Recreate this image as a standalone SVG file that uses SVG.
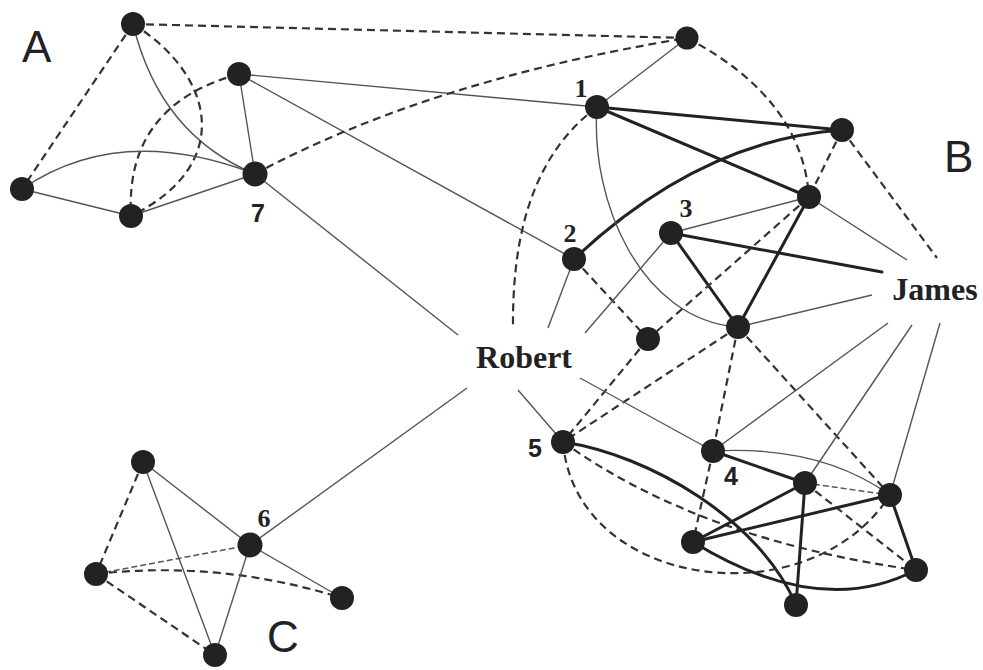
<svg xmlns="http://www.w3.org/2000/svg" width="983" height="670" viewBox="0 0 983 670">
<style>
.bg{fill:#fff}
.n{fill:#222}
.k{stroke:#222;stroke-width:3;fill:none;stroke-linecap:round}
.t{stroke:#555;stroke-width:1.4;fill:none}
.d{stroke:#333;stroke-width:2.2;fill:none;stroke-dasharray:8 5}
.dt{stroke:#555;stroke-width:1.5;fill:none;stroke-dasharray:6 3}
.lbl{font-family:"Liberation Sans",Arial,sans-serif;font-size:44px;fill:#222}
.num{font-family:"Liberation Serif","Times New Roman",serif;font-weight:bold;font-size:26px;fill:#222;text-anchor:middle}
.nums{font-family:"Liberation Sans",Arial,sans-serif;font-weight:bold;font-size:25px;fill:#222;text-anchor:middle}
.name{font-family:"Liberation Serif","Times New Roman",serif;font-weight:bold;font-size:32px;fill:#222;text-anchor:middle}
</style>
<rect class="bg" width="983" height="670"/>
<g id="connectors">
<!-- cluster A -->
<line class="d" x1="133" y1="24" x2="22" y2="189"/>
<path class="t" d="M133,24 Q160,135 255,174"/>
<path class="d" d="M133,24 C215,75 235,165 131,216"/>
<path class="d" d="M239,74 Q125,105 131,216"/>
<path class="t" d="M22,189 Q120,122 255,174"/>
<line class="t" x1="22" y1="189" x2="131" y2="216"/>
<line class="t" x1="131" y1="216" x2="255" y2="174"/>
<line class="t" x1="239" y1="74" x2="255" y2="174"/>
<line class="t" x1="239" y1="74" x2="597" y2="107"/>
<line class="t" x1="239" y1="74" x2="574" y2="259"/>
<line class="t" x1="255" y1="174" x2="458" y2="335"/>
<path class="d" d="M255,174 Q430,80 687,38"/>
<line class="d" x1="133" y1="24" x2="687" y2="38"/>
<!-- cluster C -->
<line class="d" x1="143" y1="462" x2="96" y2="574"/>
<line class="t" x1="143" y1="462" x2="250" y2="545"/>
<line class="t" x1="143" y1="462" x2="215" y2="655"/>
<line class="dt" x1="96" y1="574" x2="250" y2="545"/>
<path class="d" d="M96,574 Q220,560 342,598"/>
<line class="d" x1="96" y1="574" x2="215" y2="655"/>
<line class="t" x1="250" y1="545" x2="342" y2="598"/>
<line class="t" x1="250" y1="545" x2="215" y2="655"/>
<line class="t" x1="250" y1="545" x2="467" y2="388"/>
<!-- cluster B upper -->
<line class="t" x1="687" y1="38" x2="597" y2="107"/>
<path class="d" d="M687,38 Q802,98 809,197"/>
<line class="d" x1="842" y1="130" x2="809" y2="197"/>
<line class="d" x1="842" y1="130" x2="937" y2="258"/>
<line class="k" x1="597" y1="107" x2="842" y2="130"/>
<line class="k" x1="597" y1="107" x2="809" y2="197"/>
<path class="k" d="M574,259 Q700,140 842,130"/>
<path class="d" d="M597,107 C540,150 512,220 513,328"/>
<path class="t" d="M597,107 C590,200 640,320 738,327"/>
<line class="t" x1="574" y1="259" x2="548" y2="328"/>
<line class="d" x1="574" y1="259" x2="648" y2="339"/>
<line class="t" x1="671" y1="233" x2="809" y2="197"/>
<line class="k" x1="671" y1="233" x2="882" y2="272"/>
<line class="k" x1="671" y1="233" x2="738" y2="327"/>
<line class="t" x1="671" y1="233" x2="585" y2="333"/>
<line class="k" x1="809" y1="197" x2="738" y2="327"/>
<line class="t" x1="809" y1="197" x2="907" y2="260"/>
<line class="d" x1="809" y1="197" x2="648" y2="339"/>
<line class="t" x1="738" y1="327" x2="872" y2="295"/>
<line class="d" x1="738" y1="327" x2="563" y2="442"/>
<line class="d" x1="648" y1="339" x2="563" y2="442"/>
<line class="d" x1="738" y1="327" x2="713" y2="451"/>
<line class="d" x1="738" y1="327" x2="890" y2="495"/>
<line class="t" x1="580" y1="378" x2="713" y2="451"/>
<line class="t" x1="518" y1="390" x2="563" y2="442"/>
<line class="t" x1="888" y1="323" x2="713" y2="451"/>
<line class="t" x1="912" y1="325" x2="805" y2="483"/>
<line class="t" x1="940" y1="323" x2="890" y2="495"/>
<!-- cluster B lower -->
<path class="k" d="M563,442 C650,455 760,520 796,605"/>
<path class="d" d="M563,442 Q700,540 916,570"/>
<path class="d" d="M563,442 C575,590 810,620 890,495"/>
<line class="k" x1="713" y1="451" x2="805" y2="483"/>
<path class="t" d="M713,451 Q820,445 890,495"/>
<line class="d" x1="713" y1="451" x2="693" y2="542"/>
<line class="dt" x1="805" y1="483" x2="890" y2="495"/>
<line class="k" x1="805" y1="483" x2="693" y2="542"/>
<line class="k" x1="805" y1="483" x2="796" y2="605"/>
<line class="d" x1="805" y1="483" x2="916" y2="570"/>
<line class="k" x1="693" y1="542" x2="890" y2="495"/>
<path class="k" d="M693,542 Q820,620 916,570"/>
<line class="k" x1="890" y1="495" x2="916" y2="570"/>
</g>
<g id="node-a1"><circle class="n" cx="133" cy="24" r="12"/></g>
<g id="node-a2"><circle class="n" cx="239" cy="74" r="12"/></g>
<g id="node-a3"><circle class="n" cx="22" cy="189" r="12"/></g>
<g id="node-a4"><circle class="n" cx="131" cy="216" r="12"/></g>
<g id="node-7"><circle class="n" cx="255" cy="174" r="12.5"/><text class="nums" x="258" y="222">7</text></g>
<g id="node-c1"><circle class="n" cx="143" cy="462" r="12"/></g>
<g id="node-6"><circle class="n" cx="250" cy="545" r="12.5"/><text class="num" x="264" y="527">6</text></g>
<g id="node-c3"><circle class="n" cx="96" cy="574" r="12"/></g>
<g id="node-c4"><circle class="n" cx="342" cy="598" r="12"/></g>
<g id="node-c5"><circle class="n" cx="215" cy="655" r="12"/></g>
<g id="node-b-top"><circle class="n" cx="687" cy="38" r="11.5"/></g>
<g id="node-1"><circle class="n" cx="597" cy="107" r="12"/><text class="num" x="581" y="97">1</text></g>
<g id="node-b-r"><circle class="n" cx="842" cy="130" r="12"/></g>
<g id="node-b-m"><circle class="n" cx="809" cy="197" r="12"/></g>
<g id="node-3"><circle class="n" cx="671" cy="233" r="12"/><text class="num" x="686" y="217">3</text></g>
<g id="node-2"><circle class="n" cx="574" cy="259" r="12"/><text class="num" x="570" y="242">2</text></g>
<g id="node-b-small"><circle class="n" cx="648" cy="339" r="12"/></g>
<g id="node-b-c"><circle class="n" cx="738" cy="327" r="12"/></g>
<g id="node-5"><circle class="n" cx="563" cy="442" r="12"/><text class="nums" x="535" y="457">5</text></g>
<g id="node-4"><circle class="n" cx="713" cy="451" r="12"/><text class="nums" x="731" y="485">4</text></g>
<g id="node-b-4r"><circle class="n" cx="805" cy="483" r="12"/></g>
<g id="node-b-rr"><circle class="n" cx="890" cy="495" r="12"/></g>
<g id="node-b-ll"><circle class="n" cx="693" cy="542" r="12"/></g>
<g id="node-b-br"><circle class="n" cx="916" cy="570" r="12"/></g>
<g id="node-b-bot"><circle class="n" cx="796" cy="605" r="12"/></g>
<g id="node-robert"><text class="name" x="524" y="368">Robert</text></g>
<g id="node-james"><text class="name" x="935" y="300">James</text></g>
<g id="labels">
<text class="lbl" x="22" y="62">A</text>
<text class="lbl" x="944" y="172" font-size="42">B</text>
<text class="lbl" x="267" y="652" font-size="42">C</text>
</g>
</svg>
